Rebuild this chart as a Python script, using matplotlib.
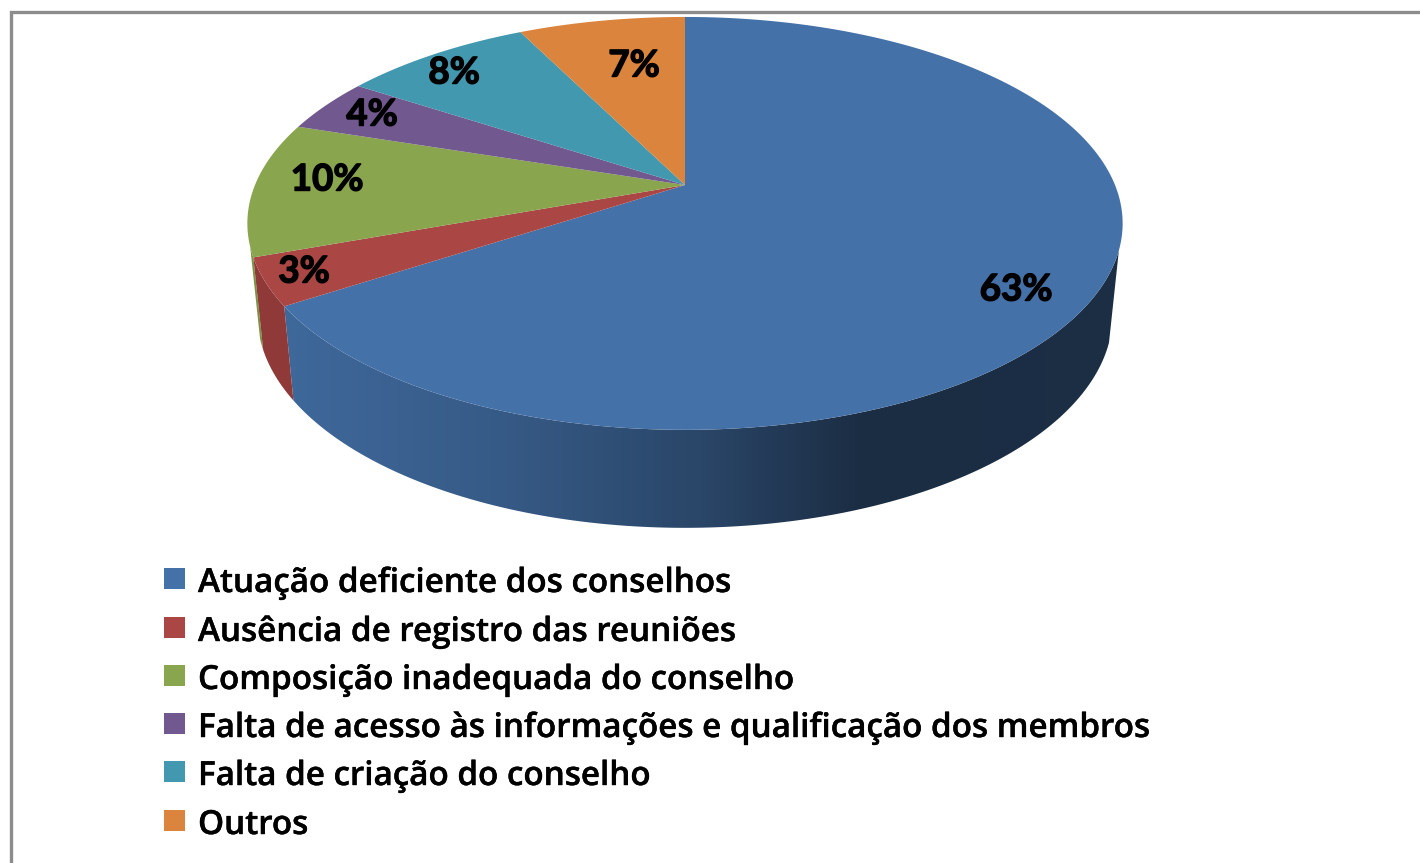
import numpy as np
import matplotlib
matplotlib.use('Agg')
import matplotlib.pyplot as plt
from matplotlib.patches import Polygon, Rectangle
import matplotlib.patheffects as pe

labels = ['Atuação deficiente dos conselhos', 'Ausência de registro das reuniões',
          'Composição inadequada do conselho',
          'Falta de acesso às informações e qualificação dos membros',
          'Falta de criação do conselho', 'Outros']
values = [63, 3, 10, 4, 8, 7]
shares = [62.5, 3.5, 10, 4, 8, 7]
colors = ['#4471a8', '#aa4643', '#89a54e', '#71588f', '#4198af', '#db843d']
wall_colors = ['#3f6595', '#8f3a38', '#7a9444', '#5e4a78', '#367f93', '#b96f33']
label_xy = [(1016, 290), (304, 272), (327, 180), (372, 115), (454, 73), (634, 66)]

# pie geometry in pixels
APEX_X, APEX_Y = 685, 185
K = 0.186
SCALE_Y = 199.3
SCALE_X = 430
TOP_CY, TOP_A, TOP_B = 223.5, 438, 206.5
BOT_CY, BOT_A, BOT_B = 315, 428, 213
# where the wall outline leaves the top ellipse
RIGHT_TANGENT, LEFT_TANGENT = 108, 252

plt.rcParams['font.family'] = ['Open Sans', 'DejaVu Sans']


def top_point(deg):
    # clockwise from 12 o'clock, with perspective
    a = np.radians(deg)
    x, y = np.sin(a), np.cos(a)
    d = 1 + K * y
    return APEX_X + SCALE_X * x / d, APEX_Y - SCALE_Y * y / d


def bottom_point(deg):
    px, py = top_point(deg)
    return (APEX_X + (px - APEX_X) / TOP_A * BOT_A,
            BOT_CY + (py - TOP_CY) / TOP_B * BOT_B)


def wall_outline(d0, d1):
    arc = np.linspace(d0, d1, 200)
    return [top_point(d) for d in arc] + [bottom_point(d) for d in arc[::-1]]


fig = plt.figure(figsize=(14.2, 8.63), dpi=100)
ax = fig.add_axes([0, 0, 1, 1])
ax.axis('off')

ax.plot([11, 11, 1425], [870, 12, 12], color='#8c8c8c', lw=2.4, solid_joinstyle='miter')

angles = 360 * np.cumsum([0] + shares) / sum(shares)
base = np.array(matplotlib.colors.to_rgb(colors[0]))

# side walls: green sliver, red, blue
ax.add_patch(Polygon(wall_outline(angles[2], LEFT_TANGENT + 1), closed=True,
                     fc=wall_colors[2], ec='none'))
ax.add_patch(Polygon(wall_outline(angles[1], angles[2]), closed=True,
                     fc=wall_colors[1], ec='none'))

# blue wall gets darker to the right
xs = np.arange(270, 1130)
shade = np.interp(xs, [290, 500, 700, 860, 1120], [0.92, 0.80, 0.62, 0.40, 0.41])
grad = (shade[None, :, None] * base[None, None, :]).clip(0, 1)
wall = Polygon(wall_outline(RIGHT_TANGENT, angles[1]), closed=True,
               transform=ax.transData, fc='none', ec='none')
ax.add_patch(wall)
im = ax.imshow(grad, extent=(270, 1130, 540, 200), aspect='auto', interpolation='bilinear')
im.set_clip_path(wall)

ax.set_xlim(0, 1420)
ax.set_ylim(863, 0)

# top face
for i in range(len(shares)):
    arc = np.linspace(angles[i], angles[i + 1], 200)
    pts = [(APEX_X, APEX_Y)] + [top_point(d) for d in arc]
    ax.add_patch(Polygon(pts, closed=True, fc=colors[i], ec='none', zorder=3))

for v, (x, y) in zip(values, label_xy):
    ax.text(x, y, '{}%'.format(v), ha='center', va='center', fontsize=26.5, fontweight='bold',
            family=['Lato', 'DejaVu Sans'], color='black', zorder=4,
            path_effects=[pe.withStroke(linewidth=1.0, foreground='black')])

# legend
row_y = [578, 627, 675, 723, 771, 820]
for name, c, y in zip(labels, colors, row_y):
    ax.add_patch(Rectangle((164, y - 10.5), 21, 21, fc=c, ec='none'))
    ax.text(198, y + 14, name, ha='left', va='baseline', fontsize=23.9, fontweight=600,
            color='black', path_effects=[pe.withStroke(linewidth=0.3, foreground='black')])

fig.savefig('out.png', dpi=100)
